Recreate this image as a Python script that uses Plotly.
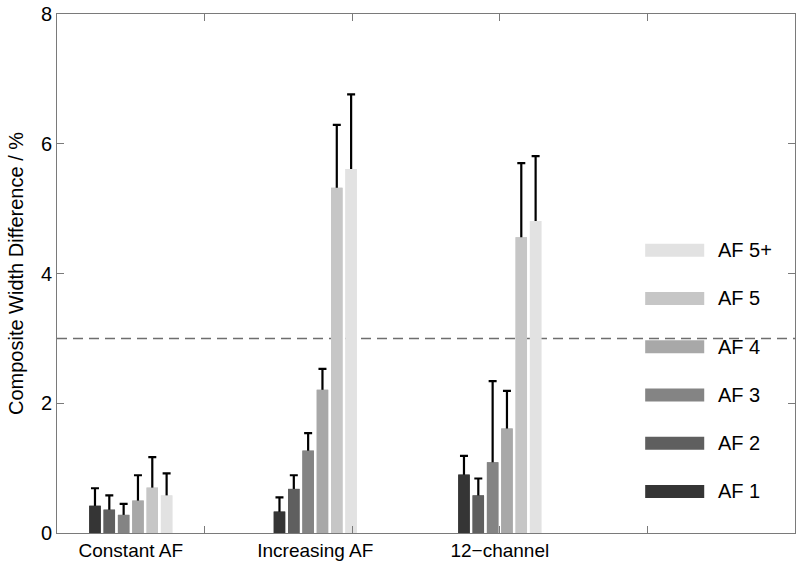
import plotly.graph_objects as go

# data
categories = ["Constant AF", "Increasing AF", "12\u2212channel"]
series = ["AF 1", "AF 2", "AF 3", "AF 4", "AF 5", "AF 5+"]
colors = ["#353535", "#5f5f5f", "#848484", "#a8a8a8", "#c6c6c6", "#e2e2e2"]

means = {
    "AF 1":  [0.42, 0.33, 0.90],
    "AF 2":  [0.36, 0.68, 0.58],
    "AF 3":  [0.28, 1.27, 1.09],
    "AF 4":  [0.50, 2.21, 1.61],
    "AF 5":  [0.70, 5.32, 4.56],
    "AF 5+": [0.58, 5.61, 4.81],
}
errors = {
    "AF 1":  [0.27, 0.22, 0.29],
    "AF 2":  [0.22, 0.21, 0.26],
    "AF 3":  [0.17, 0.27, 1.25],
    "AF 4":  [0.39, 0.32, 0.58],
    "AF 5":  [0.47, 0.97, 1.14],
    "AF 5+": [0.34, 1.15, 1.00],
}
threshold = 3
group_pos = [1, 2, 3]
xr = [0.6, 4.6]

fig = go.Figure()
# bars carrying the (upper) error bars; the lower end sits inside the bar
for name, col in zip(series, colors):
    fig.add_trace(go.Bar(
        x=group_pos, y=means[name], name=name,
        marker=dict(color=col, line=dict(width=0)),
        error_y=dict(type="data", symmetric=False,
                     array=errors[name],
                     arrayminus=[0.1] * len(group_pos),
                     color="black", thickness=2.2, width=4),
        showlegend=False, hoverinfo="skip",
    ))
# same bars again on an overlaid axis, hiding the lower end of the error bars
for name, col in zip(series, colors):
    fig.add_trace(go.Bar(
        x=group_pos, y=means[name], name=name, xaxis="x2",
        marker=dict(color=col, line=dict(width=0)),
        showlegend=False,
    ))

# threshold line
fig.add_shape(type="line", xref="paper", x0=0, x1=1, yref="y", y0=threshold, y1=threshold,
              line=dict(color="#6e6e6e", width=1.5, dash="10px,6px"), layer="below")

# legend drawn as wide swatches (top entry = last series)
leg_y0, leg_step = 0.080, 0.093
for i, (name, col) in enumerate(zip(series, colors)):
    yc = leg_y0 + i * leg_step
    fig.add_shape(type="rect", xref="paper", yref="paper",
                  x0=0.797, x1=0.877, y0=yc - 0.0125, y1=yc + 0.0125,
                  fillcolor=col, line=dict(width=0))
    fig.add_annotation(xref="paper", yref="paper", x=0.893, y=yc, text=name,
                       showarrow=False, xanchor="left", yanchor="middle",
                       font=dict(size=20, color="black"))

fig.update_layout(
    width=800, height=571,
    margin=dict(l=57, r=5, t=14, b=38),
    plot_bgcolor="white", paper_bgcolor="white",
    font=dict(family="Liberation Sans, Arial, sans-serif", color="black"),
    barmode="group", bargap=0.534, bargroupgap=0.2,
    xaxis=dict(range=xr, tickvals=group_pos, ticktext=categories, ticks="",
               showline=True, linecolor="#7a7a7a", linewidth=1, mirror=True,
               showgrid=False, zeroline=False, tickfont=dict(size=19), automargin=False),
    xaxis2=dict(overlaying="x", anchor="y", range=xr,
                tickvals=[1.4, 2.2, 3.0, 3.8], ticks="inside", ticklen=7,
                tickcolor="#7a7a7a", mirror="ticks", showline=False,
                showticklabels=False, showgrid=False, zeroline=False, side="bottom"),
    yaxis=dict(range=[0, 8], tickvals=[0, 2, 4, 6, 8], ticks="inside", ticklen=7,
               tickcolor="#7a7a7a", showline=True, linecolor="#7a7a7a", mirror="ticks",
               showgrid=False, zeroline=False, tickfont=dict(size=20), automargin=False,
               ticklabeloverflow="allow",
               title=dict(text="Composite Width Difference / %", font=dict(size=20), standoff=11)),
)

# drop the default 8px body margin so the figure fills the window
fig.write_html("out.html", config={"displayModeBar": False},
               post_script="document.body.style.margin='0';")
